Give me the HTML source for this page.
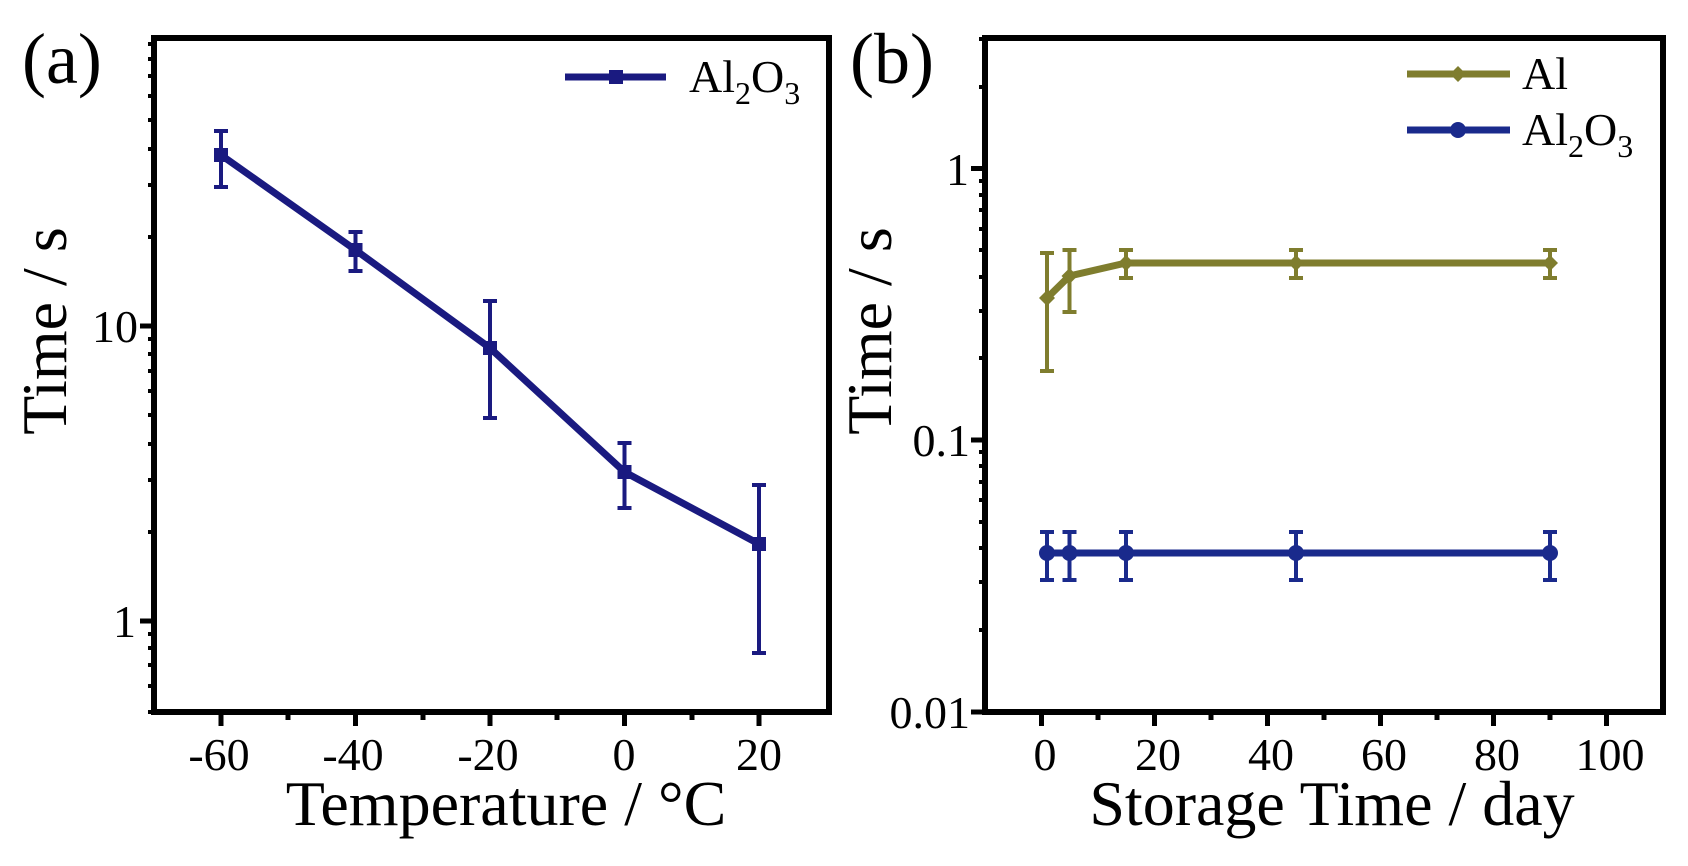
<!DOCTYPE html>
<html><head><meta charset="utf-8"><style>
html,body{margin:0;padding:0;background:#fff;}
svg{display:block;}
text{font-family:"Liberation Serif",serif;fill:#000;}
</style></head><body>
<svg width="1688" height="866" viewBox="0 0 1688 866" xmlns="http://www.w3.org/2000/svg">
<!-- Panel a -->
<rect x="154" y="38" width="675" height="674" fill="none" stroke="#000" stroke-width="6"/>
<g stroke="#000" stroke-width="5">
<line x1="221" y1="712" x2="221" y2="726"/><line x1="355.5" y1="712" x2="355.5" y2="726"/>
<line x1="490" y1="712" x2="490" y2="726"/><line x1="624.5" y1="712" x2="624.5" y2="726"/>
<line x1="759" y1="712" x2="759" y2="726"/>
<line x1="288" y1="712" x2="288" y2="720"/><line x1="423" y1="712" x2="423" y2="720"/>
<line x1="557" y1="712" x2="557" y2="720"/><line x1="692" y1="712" x2="692" y2="720"/>
<line x1="140" y1="326" x2="154" y2="326"/><line x1="140" y1="621" x2="154" y2="621"/>
</g>
<g stroke="#000" stroke-width="4" id="minA">
<line x1="148" y1="712" x2="154" y2="712"/><line x1="148" y1="686" x2="154" y2="686"/><line x1="148" y1="665" x2="154" y2="665"/>
<line x1="148" y1="648" x2="154" y2="648"/><line x1="148" y1="634" x2="154" y2="634"/>
<line x1="148" y1="532" x2="154" y2="532"/><line x1="148" y1="480" x2="154" y2="480"/><line x1="148" y1="444" x2="154" y2="444"/>
<line x1="148" y1="415" x2="154" y2="415"/><line x1="148" y1="391" x2="154" y2="391"/><line x1="148" y1="371" x2="154" y2="371"/>
<line x1="148" y1="354" x2="154" y2="354"/><line x1="148" y1="339" x2="154" y2="339"/>
<line x1="148" y1="237" x2="154" y2="237"/><line x1="148" y1="185" x2="154" y2="185"/><line x1="148" y1="149" x2="154" y2="149"/>
<line x1="148" y1="120" x2="154" y2="120"/><line x1="148" y1="96" x2="154" y2="96"/><line x1="148" y1="76" x2="154" y2="76"/>
<line x1="148" y1="59" x2="154" y2="59"/><line x1="148" y1="44" x2="154" y2="44"/>
</g>
<g font-size="46" text-anchor="middle">
<text x="219" y="770">-60</text><text x="353" y="770">-40</text><text x="488" y="770">-20</text>
<text x="624" y="770">0</text><text x="759" y="770">20</text>
</g>
<g font-size="46" text-anchor="end"><text x="138" y="342">10</text><text x="136" y="637">1</text></g>
<text x="506" y="825" font-size="64" text-anchor="middle">Temperature / °C</text>
<text transform="translate(66,331) rotate(-90)" font-size="64" text-anchor="middle">Time / s</text>
<text x="22" y="83" font-size="72">(a)</text>
<g stroke="#1a1a80" stroke-width="7" fill="none">
<polyline points="221,155 355.5,250 490,348 624.5,472 759,544"/>
</g>
<g stroke="#1a1a80" stroke-width="4">
<line x1="221" y1="131" x2="221" y2="187"/><line x1="214" y1="131" x2="228" y2="131"/><line x1="214" y1="187" x2="228" y2="187"/>
<line x1="355.5" y1="232" x2="355.5" y2="271"/><line x1="348.5" y1="232" x2="362.5" y2="232"/><line x1="348.5" y1="271" x2="362.5" y2="271"/>
<line x1="490" y1="301" x2="490" y2="418"/><line x1="483" y1="301" x2="497" y2="301"/><line x1="483" y1="418" x2="497" y2="418"/>
<line x1="624.5" y1="443" x2="624.5" y2="508"/><line x1="617.5" y1="443" x2="631.5" y2="443"/><line x1="617.5" y1="508" x2="631.5" y2="508"/>
<line x1="759" y1="485" x2="759" y2="653"/><line x1="752" y1="485" x2="766" y2="485"/><line x1="752" y1="653" x2="766" y2="653"/>
</g>
<g fill="#1a1a80">
<rect x="214" y="148" width="14" height="14"/><rect x="348.5" y="243" width="14" height="14"/>
<rect x="483" y="341" width="14" height="14"/><rect x="617.5" y="465" width="14" height="14"/><rect x="752" y="537" width="14" height="14"/>
</g>
<line x1="565" y1="77" x2="666" y2="77" stroke="#1a1a80" stroke-width="7"/>
<rect x="609" y="70" width="14" height="14" fill="#1a1a80"/>
<text x="689" y="92" font-size="46">Al<tspan font-size="32" dy="12">2</tspan><tspan dy="-12">O</tspan><tspan font-size="32" dy="12">3</tspan></text>

<!-- Panel b -->
<rect x="985" y="38" width="678" height="674" fill="none" stroke="#000" stroke-width="6"/>
<g stroke="#000" stroke-width="5">
<line x1="1041.5" y1="712" x2="1041.5" y2="726"/><line x1="1154.5" y1="712" x2="1154.5" y2="726"/>
<line x1="1267.5" y1="712" x2="1267.5" y2="726"/><line x1="1380.5" y1="712" x2="1380.5" y2="726"/>
<line x1="1493.5" y1="712" x2="1493.5" y2="726"/><line x1="1606.5" y1="712" x2="1606.5" y2="726"/>
<line x1="1098" y1="712" x2="1098" y2="720"/><line x1="1211" y1="712" x2="1211" y2="720"/>
<line x1="1324" y1="712" x2="1324" y2="720"/><line x1="1437" y1="712" x2="1437" y2="720"/><line x1="1550" y1="712" x2="1550" y2="720"/>
<line x1="971" y1="168.5" x2="985" y2="168.5"/><line x1="971" y1="440" x2="985" y2="440"/><line x1="971" y1="712" x2="985" y2="712"/>
</g>
<g stroke="#000" stroke-width="4">
<line x1="979" y1="630" x2="985" y2="630"/><line x1="979" y1="582" x2="985" y2="582"/><line x1="979" y1="548" x2="985" y2="548"/>
<line x1="979" y1="522" x2="985" y2="522"/><line x1="979" y1="500" x2="985" y2="500"/><line x1="979" y1="482" x2="985" y2="482"/>
<line x1="979" y1="466" x2="985" y2="466"/><line x1="979" y1="452" x2="985" y2="452"/>
<line x1="979" y1="358" x2="985" y2="358"/><line x1="979" y1="311" x2="985" y2="311"/><line x1="979" y1="277" x2="985" y2="277"/>
<line x1="979" y1="250" x2="985" y2="250"/><line x1="979" y1="229" x2="985" y2="229"/><line x1="979" y1="210" x2="985" y2="210"/>
<line x1="979" y1="195" x2="985" y2="195"/><line x1="979" y1="181" x2="985" y2="181"/>
<line x1="979" y1="87" x2="985" y2="87"/><line x1="979" y1="39" x2="985" y2="39"/>
</g>
<g font-size="46" text-anchor="middle">
<text x="1045" y="770">0</text><text x="1158" y="770">20</text><text x="1271" y="770">40</text>
<text x="1384" y="770">60</text><text x="1497" y="770">80</text><text x="1610" y="770">100</text>
</g>
<g font-size="46" text-anchor="end"><text x="969" y="185">1</text><text x="970" y="456">0.1</text><text x="970" y="728">0.01</text></g>
<text x="1332" y="825" font-size="64" text-anchor="middle">Storage Time / day</text>
<text transform="translate(891,331) rotate(-90)" font-size="64" text-anchor="middle">Time / s</text>
<text x="850" y="83" font-size="72">(b)</text>
<!-- Al -->
<polyline points="1047,298 1069.5,276 1126,263 1296,263 1550,263" fill="none" stroke="#7f7d2e" stroke-width="7"/>
<g stroke="#7f7d2e" stroke-width="4">
<line x1="1047" y1="253" x2="1047" y2="371"/><line x1="1040" y1="253" x2="1054" y2="253"/><line x1="1040" y1="371" x2="1054" y2="371"/>
<line x1="1069.5" y1="250" x2="1069.5" y2="312"/><line x1="1062.5" y1="250" x2="1076.5" y2="250"/><line x1="1062.5" y1="312" x2="1076.5" y2="312"/>
<line x1="1126" y1="250" x2="1126" y2="278"/><line x1="1119" y1="250" x2="1133" y2="250"/><line x1="1119" y1="278" x2="1133" y2="278"/>
<line x1="1296" y1="250" x2="1296" y2="278"/><line x1="1289" y1="250" x2="1303" y2="250"/><line x1="1289" y1="278" x2="1303" y2="278"/>
<line x1="1550" y1="250" x2="1550" y2="278"/><line x1="1543" y1="250" x2="1557" y2="250"/><line x1="1543" y1="278" x2="1557" y2="278"/>
</g>
<g fill="#7f7d2e">
<path d="M1047 290 l8 8 l-8 8 l-8 -8z"/><path d="M1069.5 268 l8 8 l-8 8 l-8 -8z"/>
<path d="M1126 255 l8 8 l-8 8 l-8 -8z"/><path d="M1296 255 l8 8 l-8 8 l-8 -8z"/><path d="M1550 255 l8 8 l-8 8 l-8 -8z"/>
</g>
<!-- Al2O3 -->
<line x1="1047" y1="553" x2="1550" y2="553" stroke="#1a2a8c" stroke-width="7"/>
<g stroke="#1a2a8c" stroke-width="4">
<line x1="1047" y1="532" x2="1047" y2="580"/><line x1="1040" y1="532" x2="1054" y2="532"/><line x1="1040" y1="580" x2="1054" y2="580"/>
<line x1="1069.5" y1="532" x2="1069.5" y2="580"/><line x1="1062.5" y1="532" x2="1076.5" y2="532"/><line x1="1062.5" y1="580" x2="1076.5" y2="580"/>
<line x1="1126" y1="532" x2="1126" y2="580"/><line x1="1119" y1="532" x2="1133" y2="532"/><line x1="1119" y1="580" x2="1133" y2="580"/>
<line x1="1296" y1="532" x2="1296" y2="580"/><line x1="1289" y1="532" x2="1303" y2="532"/><line x1="1289" y1="580" x2="1303" y2="580"/>
<line x1="1550" y1="532" x2="1550" y2="580"/><line x1="1543" y1="532" x2="1557" y2="532"/><line x1="1543" y1="580" x2="1557" y2="580"/>
</g>
<g fill="#1a2a8c">
<circle cx="1047" cy="553" r="8"/><circle cx="1069.5" cy="553" r="8"/><circle cx="1126" cy="553" r="8"/>
<circle cx="1296" cy="553" r="8"/><circle cx="1550" cy="553" r="8"/>
</g>
<!-- legend b -->
<line x1="1407" y1="74" x2="1510" y2="74" stroke="#7f7d2e" stroke-width="7"/>
<path d="M1458 66 l8 8 l-8 8 l-8 -8z" fill="#7f7d2e"/>
<text x="1522" y="89" font-size="46">Al</text>
<line x1="1407" y1="130" x2="1510" y2="130" stroke="#1a2a8c" stroke-width="7"/>
<circle cx="1458" cy="130" r="8" fill="#1a2a8c"/>
<text x="1522" y="145" font-size="46">Al<tspan font-size="32" dy="12">2</tspan><tspan dy="-12">O</tspan><tspan font-size="32" dy="12">3</tspan></text>
</svg>
</body></html>
